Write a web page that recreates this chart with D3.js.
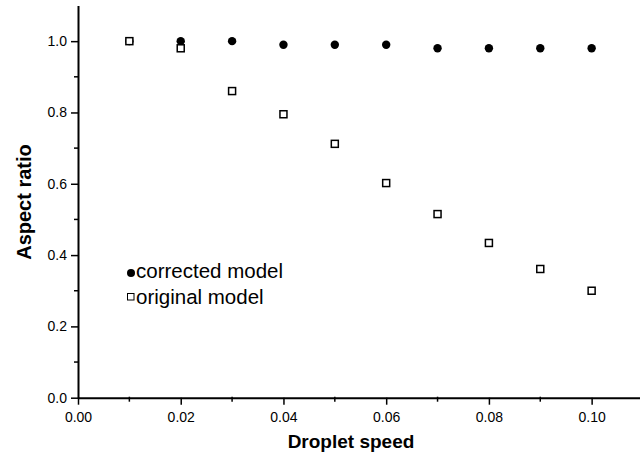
<!DOCTYPE html>
<html><head><meta charset="utf-8">
<script src="https://cdn.jsdelivr.net/npm/d3@7"></script>
<style>body{margin:0;background:#fff;}svg{display:block;font-family:Arial,"Liberation Sans",sans-serif;}</style>
</head><body>
<svg id="c" width="640" height="455"></svg>
<script>
const speeds = [0.01,0.02,0.03,0.04,0.05,0.06,0.07,0.08,0.09,0.10];
const corrected = [1.0,1.0,1.0,0.99,0.99,0.99,0.98,0.98,0.98,0.98];
const original = [1.0,0.98,0.86,0.795,0.712,0.602,0.515,0.434,0.361,0.30];
const xTicks = [0,0.02,0.04,0.06,0.08,0.10];
const xMinor = [0.01,0.03,0.05,0.07,0.09];
const yTicks = [0,0.2,0.4,0.6,0.8,1.0];
const yMinor = [0.1,0.3,0.5,0.7,0.9];
const legendLabels = ["corrected model","original model"];

const svg = d3.select("#c");
const x = d3.scaleLinear().domain([0,0.11]).range([78,643]);
const y = d3.scaleLinear().domain([0,1.1]).range([397.7,5.5]);

// x axis
const xAxis = d3.axisBottom(x).tickValues(xTicks).tickFormat(d3.format(".2f")).tickSize(7).tickSizeOuter(0);
const gx = svg.append("g").attr("transform","translate(0,"+y(0)+")").call(xAxis);
gx.select(".domain").attr("stroke-width",2);
gx.selectAll(".tick line").attr("stroke-width",1.5);
gx.selectAll("text").attr("font-size",14).attr("dy","1.05em").attr("fill","#000");
gx.selectAll(".minor").data(xMinor).enter().append("line")
  .attr("x1",d=>x(d)).attr("x2",d=>x(d)).attr("y1",-1).attr("y2",4).attr("stroke","#000").attr("stroke-width",1.5);

// y axis
const yAxis = d3.axisLeft(y).tickValues(yTicks).tickFormat(d3.format(".1f")).tickSize(7).tickSizeOuter(0);
const gy = svg.append("g").attr("transform","translate("+x(0)+",0)").call(yAxis);
gy.select(".domain").attr("stroke-width",2);
gy.selectAll(".tick line").attr("stroke-width",1.5);
gy.selectAll("text").attr("font-size",14).attr("fill","#000").attr("x",-11);
gy.selectAll(".minor").data(yMinor).enter().append("line")
  .attr("x1",0).attr("x2",-4).attr("y1",d=>y(d)).attr("y2",d=>y(d)).attr("stroke","#000").attr("stroke-width",1.5);

// axis titles
svg.append("text").attr("x",351).attr("y",448).attr("text-anchor","middle")
  .attr("font-size",19).attr("font-weight","bold").text("Droplet speed");
svg.append("text").attr("transform","translate(31,202) rotate(-90)").attr("text-anchor","middle")
  .attr("font-size",20).attr("font-weight","bold").text("Aspect ratio");

// data
svg.append("g").selectAll("circle").data(speeds).enter().append("circle")
  .attr("cx",d=>x(d)).attr("cy",(d,i)=>y(corrected[i])).attr("r",4.2).attr("fill","#000");
const s = 7;
svg.append("g").selectAll("rect").data(speeds).enter().append("rect")
  .attr("x",d=>x(d)-s/2).attr("y",(d,i)=>y(original[i])-s/2).attr("width",s).attr("height",s)
  .attr("fill","#fff").attr("stroke","#000").attr("stroke-width",1.5);

// legend
svg.append("circle").attr("cx",131).attr("cy",273).attr("r",4).attr("fill","#000");
svg.append("text").attr("x",136).attr("y",278).attr("font-size",20.5).text(legendLabels[0]);
svg.append("rect").attr("x",127.5).attr("y",293.5).attr("width",6.5).attr("height",6.5)
  .attr("fill","#fff").attr("stroke","#000").attr("stroke-width",1);
svg.append("text").attr("x",136).attr("y",303.5).attr("font-size",20.5).text(legendLabels[1]);
</script>
</body></html>
